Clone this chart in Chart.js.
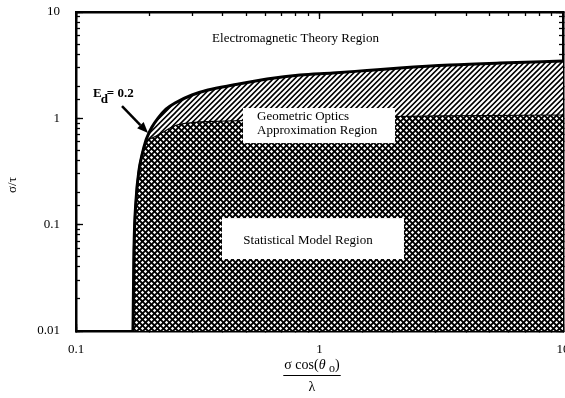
<!DOCTYPE html>
<html>
<head>
<meta charset="utf-8">
<script src="https://cdn.jsdelivr.net/npm/chart.js@4.4.1/dist/chart.umd.min.js"></script>
<style>
  html, body { margin: 0; padding: 0; background: #fff; }
  #wrap { width: 565px; height: 398px; }
</style>
</head>
<body>
<div id="wrap"><canvas id="c" width="565" height="398"></canvas></div>
<script>
// Upper boundary: E_d = 0.2 (geometric optics / electromagnetic theory limit)
const upperX = [0.1714, 0.1730, 0.1764, 0.1815, 0.1866, 0.1939, 0.1976, 0.2051, 0.2172, 0.2342, 0.2550, 0.2996, 0.3484, 0.4414, 0.6087, 0.8317, 1.136, 1.567, 2.141, 3.435, 5.510, 10];
const upperY = [0.01, 0.0577, 0.1703, 0.3264, 0.4516, 0.625, 0.6966, 0.828, 1.006, 1.223, 1.393, 1.657, 1.846, 2.057, 2.342, 2.554, 2.668, 2.82, 2.974, 3.172, 3.313, 3.459];

// Lower boundary: limit of the statistical model
const lowerX = [0.1714, 0.1730, 0.1764, 0.1815, 0.1866, 0.1920, 0.1976, 0.2111, 0.2255, 0.2550, 0.2996, 0.3484, 0.4851, 0.8317, 2.042, 4.561, 10];
const lowerY = [0.01, 0.0577, 0.1703, 0.3264, 0.4516, 0.561, 0.625, 0.682, 0.743, 0.865, 0.923, 0.943, 0.964, 0.985, 1.051, 1.074, 1.086];

const xTickLabels = ['0.1', '1', '10'];
const yTickLabels = ['0.01', '0.1', '1', '10'];

const regionNames = ['Electromagnetic Theory Region', 'Geometric Optics', 'Approximation Region', 'Statistical Model Region'];

const SERIF = '"Liberation Serif", "Times New Roman", serif';

// Diagonal line hatch ("/" direction)
function makeDiagonal(size, periods, lineW) {
  const cv = document.createElement('canvas');
  cv.width = cv.height = size;
  const g = cv.getContext('2d');
  g.fillStyle = '#fff';
  g.fillRect(0, 0, size, size);
  g.strokeStyle = '#000';
  g.lineWidth = lineW;
  const p = size / periods;
  g.beginPath();
  for (let k = 0; k <= 2 * periods; k++) {
    const c = k * p; // lines x + y = c
    g.moveTo(c + 2, -2);
    g.lineTo(c - size - 2, size + 2);
  }
  g.stroke();
  return g.createPattern(cv, 'repeat');
}

// Dense cross hatch: black mesh with small white diamond openings
function makeCross(size, r) {
  const cv = document.createElement('canvas');
  cv.width = cv.height = size;
  const g = cv.getContext('2d');
  g.fillStyle = '#000';
  g.fillRect(0, 0, size, size);
  g.fillStyle = '#fff';
  const h = size / 2;
  const centres = [[1.5, 1.5], [1.5 + h, 1.5 + h], [1.5 + size, 1.5], [1.5, 1.5 + size], [1.5 + h - size, 1.5 + h], [1.5 + h, 1.5 + h - size]];
  centres.forEach(([cx, cy]) => {
    g.beginPath();
    g.moveTo(cx, cy - r);
    g.lineTo(cx + r, cy);
    g.lineTo(cx, cy + r);
    g.lineTo(cx - r, cy);
    g.closePath();
    g.fill();
  });
  return g.createPattern(cv, 'repeat');
}

const ctx0 = document.getElementById('c').getContext('2d');
const diagonalFill = makeDiagonal(16, 3, 1.6);
const crossFill = makeCross(6, 1.65);

const toPoints = (xs, ys) => xs.map((v, i) => ({ x: v, y: ys[i] }));

const isMajor = v => Math.abs(Math.log10(v) - Math.round(Math.log10(v))) < 1e-6;
const labelFor = labels => v => {
  const hit = labels.find(l => Math.abs(parseFloat(l) / v - 1) < 1e-6);
  return hit === undefined ? '' : hit;
};

// fixed scale sizes, no extra room reserved for overhanging labels
function fixSize(horizontal, size) {
  return s => {
    if (horizontal) s.height = size; else s.width = size;
    s.paddingLeft = s.paddingRight = s.paddingTop = s.paddingBottom = 0;
  };
}

function axis(pos, min, max, opts) {
  return Object.assign({
    type: 'logarithmic',
    position: pos,
    min: min,
    max: max,
    weight: 1,
    border: { display: true, color: '#000', width: 2.5 },
    grid: { drawOnChartArea: false, drawTicks: true, tickLength: -4, tickWidth: 1.3, tickColor: '#000' },
    ticks: { display: false, autoSkip: false, maxRotation: 0 },
    title: { display: false }
  }, opts);
}

function majorAxis(pos, min, max) {
  const horizontal = pos === 'top' || pos === 'bottom';
  return axis(pos, min, max, {
    weight: 0,
    border: { display: false },
    grid: { drawOnChartArea: false, drawTicks: true, tickLength: -7, tickWidth: 1.3, tickColor: '#000' },
    afterBuildTicks: s => { s.ticks = s.ticks.filter(t => isMajor(t.value)); },
    afterFit: fixSize(horizontal, 0)
  });
}

// Region labels, the E_d marker and the axis titles
const annotations = {
  id: 'annotations',
  afterDatasetsDraw(chart) {
    const { ctx, chartArea } = chart;
    const xs = chart.scales.x, ys = chart.scales.y;
    const X = v => xs.getPixelForValue(v);
    const Y = v => ys.getPixelForValue(v);
    ctx.save();

    // white label panels
    ctx.fillStyle = '#fff';
    const panel = (x0, x1, y0, y1) => ctx.fillRect(X(x0), Y(y0), X(x1) - X(x0), Y(y1) - Y(y0));
    panel(0.4851, 2.042, 1.25, 0.5855);
    panel(0.3977, 2.223, 0.1153, 0.0475);

    ctx.fillStyle = '#000';
    ctx.textBaseline = 'middle';
    ctx.font = '13px ' + SERIF;
    ctx.textAlign = 'center';
    ctx.fillText(regionNames[0], X(0.797), Y(5.57));
    ctx.fillText(regionNames[3], X(0.897), Y(0.0701));
    ctx.textAlign = 'left';
    ctx.fillText(regionNames[1], X(0.554), Y(1.05));
    ctx.fillText(regionNames[2], X(0.554), Y(0.76));

    // E_d = 0.2 label
    const ex = X(0.1174), ey = Y(1.693);
    ctx.font = 'bold 13px ' + SERIF;
    ctx.fillText('E', ex, ey);
    const ew = ctx.measureText('E').width;
    ctx.fillText('d', ex + ew - 1, ey + 6);
    const dw = ctx.measureText('d').width;
    ctx.fillText('= 0.2', ex + ew + dw - 2, ey);

    // arrow towards the E_d = 0.2 curve
    const ax0 = X(0.1545), ay0 = Y(1.305), ax1 = X(0.1976), ay1 = Y(0.727);
    const ang = Math.atan2(ay1 - ay0, ax1 - ax0);
    const headL = 11, headW = 4.5;
    const bx = ax1 - headL * Math.cos(ang), by = ay1 - headL * Math.sin(ang);
    ctx.strokeStyle = '#000';
    ctx.lineWidth = 2.5;
    ctx.beginPath();
    ctx.moveTo(ax0, ay0);
    ctx.lineTo(bx, by);
    ctx.stroke();
    ctx.beginPath();
    ctx.moveTo(ax1, ay1);
    ctx.lineTo(bx + headW * Math.sin(ang), by - headW * Math.cos(ang));
    ctx.lineTo(bx - headW * Math.sin(ang), by + headW * Math.cos(ang));
    ctx.closePath();
    ctx.fill();

    // y axis title
    ctx.save();
    ctx.translate(chartArea.left - 63, chartArea.top + 173);
    ctx.rotate(-Math.PI / 2);
    ctx.font = '13px ' + SERIF;
    ctx.textAlign = 'center';
    ctx.fillText('σ/τ', 0, 0);
    ctx.restore();

    // x axis title: σ cos(θ_o) / λ
    const cx = chartArea.left + 236;
    const ny = chartArea.bottom + 34;
    const parts = [
      { t: 'σ cos(', f: '14px ' + SERIF, dy: 0 },
      { t: 'θ', f: 'italic 14px ' + SERIF, dy: 0 },
      { t: ' ', f: '14px ' + SERIF, dy: 0 },
      { t: 'o', f: '12px ' + SERIF, dy: 4 },
      { t: ')', f: '14px ' + SERIF, dy: 0 }
    ];
    let total = 0;
    parts.forEach(p => { ctx.font = p.f; p.w = ctx.measureText(p.t).width; total += p.w; });
    let px = cx - total / 2;
    ctx.textAlign = 'left';
    parts.forEach(p => { ctx.font = p.f; ctx.fillText(p.t, px, ny + p.dy); px += p.w; });
    ctx.lineWidth = 1;
    ctx.beginPath();
    ctx.moveTo(cx - total / 2 - 1, ny + 10.5);
    ctx.lineTo(cx + total / 2 + 1, ny + 10.5);
    ctx.stroke();
    ctx.font = '14px ' + SERIF;
    ctx.textAlign = 'center';
    ctx.fillText('λ', cx, ny + 22);

    ctx.restore();
  }
};

new Chart(ctx0, {
  type: 'line',
  data: {
    datasets: [
      {
        label: 'E_d = 0.2',
        data: toPoints(upperX, upperY),
        xAxisID: 'x', yAxisID: 'y',
        borderColor: '#000',
        borderWidth: 3,
        pointRadius: 0,
        cubicInterpolationMode: 'monotone',
        backgroundColor: diagonalFill,
        fill: 1
      },
      {
        label: 'Statistical model limit',
        data: toPoints(lowerX, lowerY),
        xAxisID: 'x', yAxisID: 'y',
        borderColor: '#000',
        borderWidth: 2.2,
        pointRadius: 0,
        cubicInterpolationMode: 'monotone',
        backgroundColor: crossFill,
        fill: 'start'
      }
    ]
  },
  options: {
    responsive: false,
    animation: false,
    devicePixelRatio: 1,
    layout: { padding: 0 },
    plugins: { legend: { display: false }, tooltip: { enabled: false } },
    scales: {
      x: axis('bottom', 0.1, 10, {
        ticks: { display: true, autoSkip: false, maxRotation: 0, padding: 15, color: '#000',
                 font: { family: SERIF, size: 13 }, callback: labelFor(xTickLabels) },
        afterFit: fixSize(true, 67)
      }),
      xMajor: majorAxis('bottom', 0.1, 10),
      xTop: axis('top', 0.1, 10, { afterFit: fixSize(true, 12) }),
      xTopMajor: majorAxis('top', 0.1, 10),
      y: axis('left', 0.01, 10, {
        ticks: { display: true, autoSkip: false, padding: 20, color: '#000',
                 font: { family: SERIF, size: 13 }, callback: labelFor(yTickLabels) },
        afterFit: fixSize(false, 76)
      }),
      yMajor: majorAxis('left', 0.01, 10),
      yRight: axis('right', 0.01, 10, { afterFit: fixSize(false, 2) }),
      yRightMajor: majorAxis('right', 0.01, 10)
    }
  },
  plugins: [annotations]
});
</script>
</body>
</html>
